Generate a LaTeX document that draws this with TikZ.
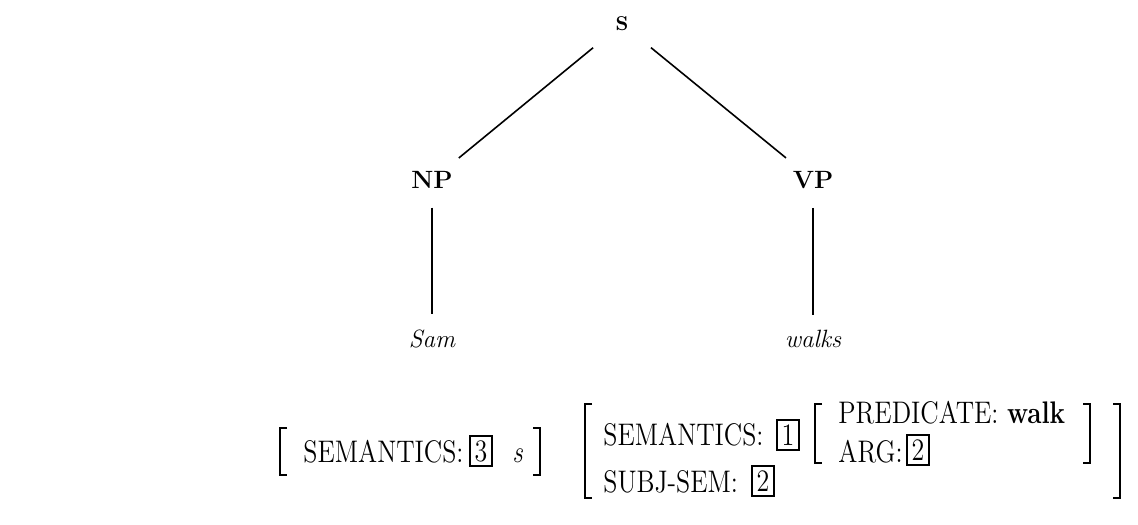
\documentclass[tikz,border=0pt]{standalone}
\usepackage{fontspec}
\usepackage{tikz}

\tikzset{
	cat/.style={font=\fontsize{12.5}{14}\selectfont\bfseries},
	word/.style={font=\fontsize{12.5}{14}\selectfont\itshape, anchor=base},
	feat/.style={font=\fontsize{13}{15}\selectfont, anchor=base west, yscale=1.2, inner sep=0pt},
	tagbox/.style={draw, line width=0.8pt, font=\fontsize{13}{15}\selectfont, yscale=1.2, minimum width=11pt, minimum height=12.5pt, inner sep=0pt},
	branch/.style={line width=0.8pt, shorten <=10pt, shorten >=5pt},
	stem/.style={line width=0.8pt, shorten <=6pt, shorten >=4pt},
	brk/.style={line width=1.2pt}
}

\begin{document}
\begin{tikzpicture}[x=0.5pt,y=-0.5pt]
	\newcommand\LBrack[1]{+(7,0) -- +(0,0) -- +(0,#1) -- +(7,#1)}
	\newcommand\RBrack[1]{+(-7,0) -- +(0,0) -- +(0,#1) -- +(-7,#1)}

	\useasboundingbox (0,0) rectangle (1138,524);

	\node[cat, font=\fontsize{10}{12}\selectfont\bfseries] (S) at (622,24) {S};
	\node[cat] (NP) at (432,180) {NP};
	\node[cat] (VP) at (813,180) {VP};
	\node[word] (Sam) at (432,347) {Sam};
	\node[word] (walks) at (813,347) {walks};

	\draw[branch] (S) -- (NP);
	\draw[branch] (S) -- (VP);
	\draw[stem] (NP) -- (Sam);
	\draw[stem] (VP) -- (walks);

	\node[feat] (semL) at (303,462) {SEMANTICS:};
	\node[tagbox] (tag3) at (481,451) {3};
	\node[feat] (varS) at (512,462) {\textit{s}};
	\draw[brk] (280,428) \LBrack{47};
	\draw[brk] (540,428) \RBrack{47};

	\node[feat] (semR) at (603,445) {SEMANTICS:};
	\node[tagbox] (tag1) at (788,435) {1};
	\node[feat] (subj) at (603,492) {SUBJ-SEM:};
	\node[tagbox] (tag2a) at (763,481) {2};
	\node[feat] (pred) at (838,423) {PREDICATE: \textbf{walk}};
	\node[feat] (arg) at (838,462) {ARG:};
	\node[tagbox] (tag2b) at (918,450) {2};
	\draw[brk] (585,404) \LBrack{94};
	\draw[brk] (815,404) \LBrack{59};
	\draw[brk] (1090,404) \RBrack{59};
	\draw[brk] (1120,404) \RBrack{94};
\end{tikzpicture}
\end{document}
